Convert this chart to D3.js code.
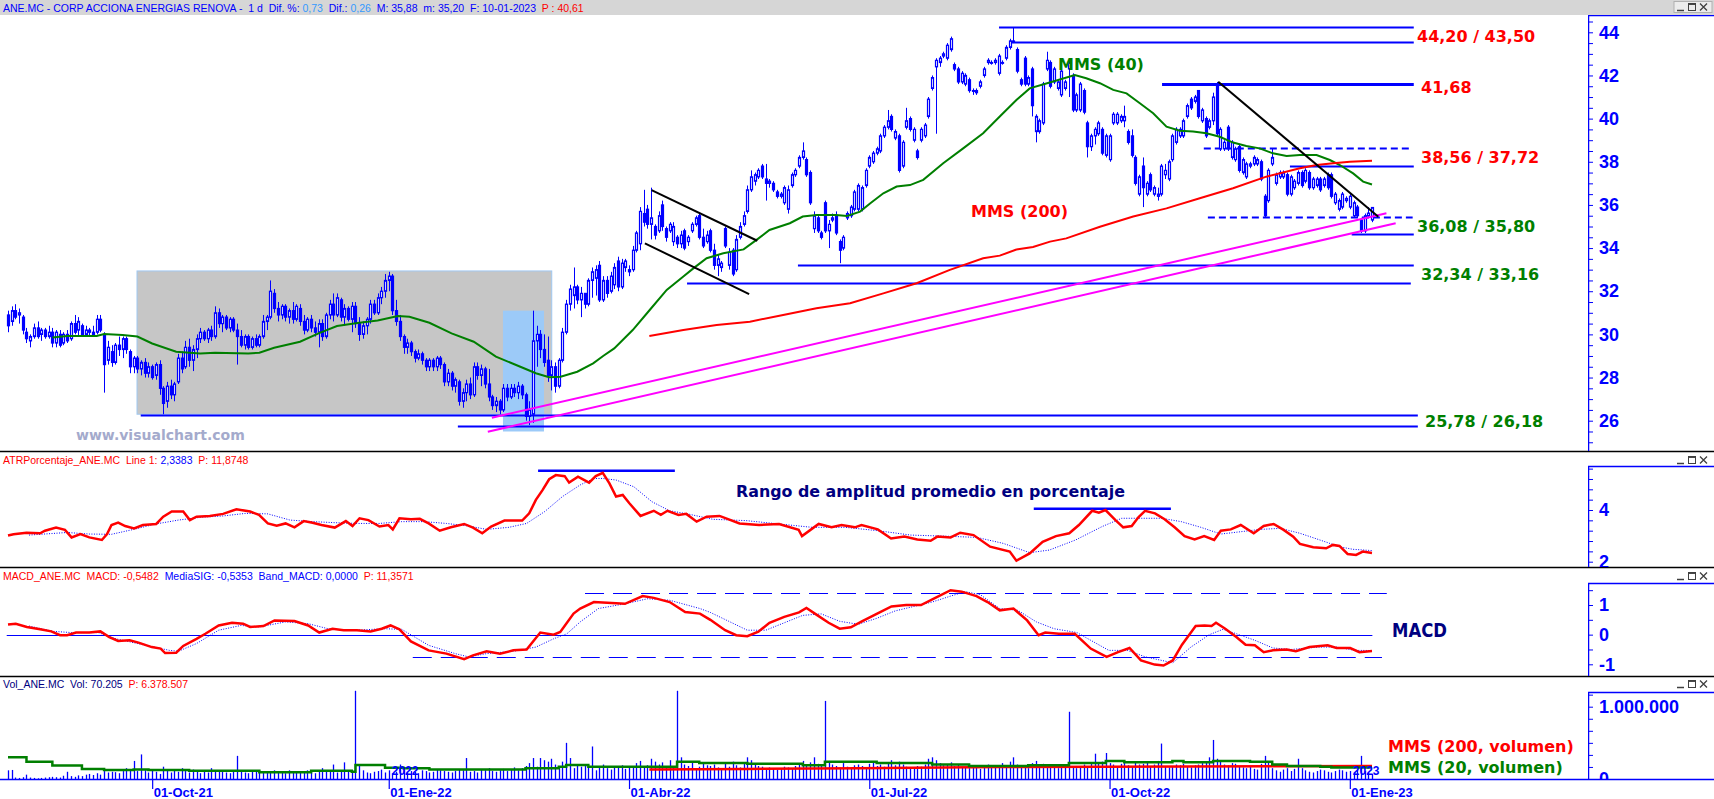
<!DOCTYPE html>
<meta charset="utf-8">
<style>
body { margin: 0; background: #fff; }
svg { display: block; }
</style>
<body>
<svg width="1714" height="799"></svg>
<script src="https://d3js.org/d3.v7.min.js"></script>
<script>

// ---- daily candles, one per trading session (Aug-21 .. 10-Jan-23) ----
var opens = [
30.9,30.6,31.1,30.9,30.8,30.1,29.7,29.9,30.3,30.0, 30.2,29.9,30.1,29.6,30.0,29.6,30.0,29.8,30.5,30.2,
30.4,30.0,30.2,30.1,30.1,30.7,30.0,28.8,29.2,28.7, 29.5,29.3,29.8,29.2,28.5,28.9,28.4,28.7,28.2,28.5,
28.1,28.6,27.5,26.9,27.6,27.2,27.8,28.9,28.5,29.4, 28.8,29.3,29.8,30.1,29.8,30.2,29.9,31.0,30.5,30.8,
30.3,30.7,30.2,29.9,29.5,29.9,29.4,29.8,29.5,29.9, 30.6,30.8,31.9,31.2,30.9,31.3,30.8,31.1,30.7,31.2,
30.6,30.2,30.7,30.3,30.1,30.5,29.9,30.9,31.4,30.9, 31.6,30.8,31.2,30.7,31.3,30.5,30.0,30.4,30.7,31.4,
31.0,31.7,32.0,32.5,32.7,31.1,30.6,29.9,29.4,29.6, 29.2,28.9,29.1,28.8,28.5,28.8,28.5,28.9,28.6,27.8,
28.2,27.6,27.8,26.9,27.3,27.7,27.2,28.5,28.1,28.4, 27.7,27.1,26.7,26.9,26.5,27.5,27.1,27.5,27.3,27.6,
27.2,26.2,26.3,29.7,30.0,29.3,28.8,28.1,28.5,27.6, 28.8,30.1,31.4,31.8,32.2,31.6,31.9,31.4,32.5,32.6,
33.2,31.6,32.5,32.0,32.3,33.4,32.2,33.1,33.0,33.0, 33.9,34.2,35.6,35.8,35.1,35.0,34.8,36.0,34.9,34.8,
34.3,34.5,34.2,34.8,34.3,34.8,35.1,35.5,34.5,34.3, 34.8,33.9,33.2,33.1,34.9,33.2,33.9,33.0,34.5,35.1,
35.7,36.7,37.1,37.3,37.8,37.2,37.0,37.0,36.6,36.4, 36.1,35.8,36.9,37.4,37.8,38.2,38.1,37.5,34.9,35.4,
34.7,36.1,34.8,35.3,35.5,34.3,34.0,35.4,35.5,35.8, 35.8,35.8,36.9,37.8,38.0,38.4,38.5,39.2,39.6,40.1,
39.1,39.2,37.8,39.6,40.0,39.0,38.5,39.0,39.2,40.1, 41.4,42.4,42.6,42.9,42.8,43.2,42.5,42.3,41.7,41.6,
41.8,41.3,41.3,41.5,42.0,42.6,42.6,42.6,42.1,42.6, 42.8,43.3,43.6,43.2,41.8,42.8,41.6,42.3,39.4,39.4,
39.8,42.3,42.6,41.7,41.4,41.1,41.4,42.3,42.0,40.4, 40.4,41.3,39.8,38.7,39.2,39.3,39.5,38.3,38.1,39.8,
39.8,39.9,39.9,39.4,39.2,38.2,36.5,37.8,36.5,37.4, 36.5,36.4,36.5,37.4,37.2,38.1,38.9,39.2,39.2,40.1,
40.9,40.8,41.3,39.9,40.0,39.6,39.9,41.6,38.6,38.6, 39.6,38.2,38.1,38.7,37.5,37.3,37.8,37.9,37.9,38.0,
36.4,36.2,37.9,37.0,37.3,37.3,37.4,36.5,36.8,37.0, 37.5,37.1,37.5,36.8,36.9,37.2,36.9,37.4,37.4,36.1,
35.8,35.9,36.2,35.9,35.5,35.9,35.3,34.8,35.5,35.3
];
var highs = [
31.1,31.3,31.4,31.2,30.9,30.3,30.0,30.5,30.6,30.3, 30.3,30.4,30.3,30.2,30.2,30.1,30.2,30.6,30.9,30.8,
30.5,30.4,30.3,30.4,30.9,30.9,30.1,29.7,29.5,29.6, 29.9,29.9,29.9,29.3,29.0,29.0,28.8,28.9,28.7,28.6,
28.7,28.8,27.6,27.8,27.9,27.8,29.1,29.2,29.7,29.8, 29.5,30.0,30.3,30.2,30.3,30.4,31.3,31.2,30.9,30.9,
30.8,30.8,30.5,30.2,30.0,30.0,29.9,30.0,30.0,30.9, 30.9,32.5,32.1,31.5,31.4,31.4,31.2,31.5,31.4,31.4,
30.9,30.8,30.9,30.6,30.7,30.7,31.0,31.6,31.9,31.9, 31.7,31.4,31.3,31.5,31.5,30.8,30.6,30.8,31.6,31.6,
31.9,32.2,32.8,32.9,32.8,31.6,30.9,30.0,29.8,29.7, 29.3,29.3,29.2,28.9,28.9,28.9,29.0,29.0,28.7,28.4,
28.3,28.0,27.9,27.5,27.9,28.0,28.7,28.7,28.6,28.5, 28.4,27.2,27.1,27.0,27.7,27.7,27.7,27.7,27.8,27.7,
27.3,26.9,31.1,30.4,30.2,30.0,29.9,28.8,28.7,28.9, 30.3,31.6,32.3,33.1,32.3,32.2,31.9,32.6,33.1,33.2,
33.4,32.7,32.7,32.9,33.3,33.6,33.5,33.5,33.2,34.1, 34.8,35.9,36.7,36.0,36.8,35.1,35.7,36.2,35.0,35.2,
35.2,34.6,34.8,34.9,34.6,35.2,35.5,35.6,34.9,34.8, 34.9,34.2,33.7,33.4,35.0,34.0,34.0,34.6,35.2,35.7,
36.9,37.6,37.5,37.7,37.9,37.9,37.2,37.1,36.7,36.6, 36.9,36.9,37.5,37.7,38.3,38.9,38.2,37.6,35.7,35.5,
34.8,36.2,35.3,35.6,35.7,34.4,34.6,35.7,36.0,36.7, 37.0,36.9,37.7,38.3,38.5,38.7,39.3,39.7,40.4,40.2,
39.5,39.3,39.0,40.5,40.1,39.6,38.6,39.6,39.8,41.0, 42.0,42.8,42.9,43.1,43.5,43.8,42.6,42.4,42.2,42.1,
41.9,41.4,41.4,41.8,42.4,42.8,42.7,42.8,43.0,42.7, 43.4,43.7,44.2,43.3,41.9,42.9,42.0,42.4,40.2,40.0,
41.7,43.1,42.7,42.4,41.8,42.3,41.8,42.7,42.1,41.2, 41.7,41.4,39.9,39.3,39.6,39.9,39.6,39.3,39.3,40.3,
40.3,40.2,40.6,39.5,39.5,38.3,37.4,38.2,37.1,37.5, 36.9,36.8,37.9,37.9,38.1,39.3,39.6,39.6,40.0,40.7,
41.0,41.1,41.3,40.5,40.1,40.0,41.2,41.7,39.6,39.0, 39.7,39.0,38.7,38.8,38.2,38.0,38.0,38.3,38.2,38.1,
36.5,37.7,38.6,37.5,37.6,37.6,37.5,37.4,37.2,37.6, 37.6,37.7,37.6,37.3,37.3,37.3,37.3,37.5,37.5,36.6,
36.3,36.6,36.4,36.5,36.2,36.0,35.4,35.6,35.9,35.88
];
var lows = [
30.1,30.4,30.7,30.5,30.0,29.6,29.4,29.8,29.8,29.7, 29.8,29.8,29.4,29.4,29.4,29.5,29.6,29.7,30.0,29.9,
29.9,29.9,29.9,29.9,30.0,30.1,27.3,28.6,28.5,28.6, 29.0,28.9,29.1,28.2,28.2,28.2,28.1,28.0,28.0,27.9,
27.9,27.2,26.3,26.6,27.0,26.9,27.7,28.2,28.4,28.5, 28.3,28.9,29.6,29.7,29.6,29.7,29.8,30.3,30.1,30.2,
30.1,30.1,28.6,29.4,29.3,29.3,29.3,29.4,29.4,29.8, 30.2,30.7,31.0,30.6,30.7,30.6,30.5,30.5,30.6,30.4,
30.0,30.1,30.1,29.9,29.4,29.7,29.8,30.7,30.6,30.8, 30.6,30.4,30.6,30.1,30.3,29.7,29.8,30.0,30.5,30.9,
30.9,31.4,31.7,32.0,30.9,30.4,29.7,29.1,29.1,29.0, 28.7,28.8,28.6,28.3,28.3,28.3,28.3,28.4,27.6,27.6,
27.4,27.3,26.7,26.6,26.9,27.0,27.1,27.9,27.6,27.5, 26.9,26.5,26.4,26.3,26.4,26.9,27.0,27.1,27.0,27.0,
26.0,25.8,25.9,28.5,28.9,28.5,27.8,27.4,27.3,27.5, 28.7,30.0,31.1,31.2,31.4,30.8,31.2,31.3,31.7,31.8,
31.5,31.5,31.7,31.9,32.1,32.0,32.1,32.9,32.7,32.9, 33.8,33.9,35.0,34.9,34.4,34.4,34.7,34.8,34.3,34.7,
34.1,34.0,34.0,33.9,34.1,34.7,35.0,34.4,34.0,34.2, 33.8,33.0,32.7,32.9,34.0,33.0,32.7,32.9,34.4,35.0,
35.6,36.6,36.9,37.2,37.2,36.2,36.8,36.6,36.3,36.3, 36.0,35.6,36.8,37.3,37.7,38.1,37.3,36.0,34.7,34.7,
34.4,34.7,34.0,35.2,34.6,33.3,33.9,35.3,35.4,35.7, 35.7,35.7,36.8,37.7,37.9,38.3,38.4,39.1,39.5,39.4,
39.0,37.5,37.7,39.5,39.4,38.9,38.1,38.9,39.1,40.0, 41.3,39.3,42.4,42.8,42.7,43.1,42.2,41.6,41.6,41.5,
41.2,41.1,41.1,41.4,41.9,42.5,42.5,42.5,42.0,42.5, 42.7,43.2,43.5,42.1,41.5,41.5,41.5,40.1,38.9,39.3,
39.7,42.2,41.4,41.6,41.3,41.0,41.3,41.0,40.3,40.3, 40.3,40.2,38.2,38.5,38.8,39.2,38.3,38.2,38.0,39.7,
39.7,39.8,39.6,38.8,38.2,36.9,36.4,35.9,36.4,36.6, 36.4,36.2,36.4,37.2,37.1,38.0,38.8,39.1,39.1,40.0,
40.4,40.7,40.0,39.8,39.1,39.5,39.7,39.2,38.5,38.5, 38.5,38.1,38.0,37.5,37.4,37.2,37.7,37.8,37.8,37.1,
35.4,36.1,37.8,36.9,37.2,37.2,36.4,36.4,36.7,36.9, 36.8,37.0,36.7,36.7,36.8,36.6,36.8,36.7,36.3,36.0,
35.7,35.8,36.1,35.8,35.4,35.4,34.7,34.7,35.4,35.2
];
var closes = [
30.4,31.1,30.8,31.0,30.2,29.8,29.9,30.3,29.9,30.2, 29.9,30.1,29.6,30.1,29.5,30.0,29.7,30.5,30.1,30.6,
30.0,30.2,30.1,30.0,30.7,30.2,28.6,29.4,28.7,29.5, 29.3,29.8,29.3,28.5,28.9,28.4,28.7,28.2,28.5,28.0,
28.6,27.5,26.8,27.6,27.2,27.7,28.9,28.4,29.4,28.8, 29.3,29.8,30.1,29.8,30.2,29.9,31.0,30.5,30.8,30.3,
30.7,30.2,29.9,29.5,29.9,29.4,29.8,29.5,29.9,30.6, 30.8,32.0,31.2,30.9,31.3,30.8,31.1,30.7,31.3,30.6,
30.2,30.7,30.3,30.1,30.5,29.9,30.9,31.4,30.9,31.7, 30.8,31.2,30.7,31.3,30.5,30.0,30.4,30.7,31.4,31.0,
31.7,32.0,32.5,32.7,31.1,30.6,29.9,29.4,29.6,29.2, 28.9,29.1,28.8,28.5,28.8,28.5,28.9,28.6,27.8,28.2,
27.6,27.9,26.9,27.3,27.7,27.2,28.5,28.1,28.4,27.7, 27.1,26.7,26.9,26.5,27.5,27.1,27.5,27.3,27.6,27.2,
26.2,26.5,29.7,30.0,29.3,28.7,28.1,28.5,27.6,28.8, 30.1,31.4,32.1,32.2,31.6,31.9,31.4,32.5,32.9,33.0,
31.6,32.5,31.9,32.7,33.1,32.2,33.3,33.4,32.9,33.9, 34.7,35.7,35.2,35.1,35.4,34.6,35.5,35.0,34.5,35.1,
35.0,34.2,34.6,34.0,34.5,35.1,35.4,34.5,34.1,34.6, 33.9,33.2,33.5,33.3,34.1,33.8,32.8,34.4,35.0,35.5,
36.7,37.3,37.4,37.6,37.3,37.0,37.1,36.7,36.4,36.5, 36.8,36.7,37.4,37.6,38.2,38.5,37.4,36.1,35.5,34.8,
34.5,34.8,35.1,35.4,34.7,33.9,34.5,35.6,35.9,36.6, 36.9,36.8,37.6,38.2,38.4,38.6,39.2,39.6,39.9,39.5,
39.4,37.6,38.9,39.9,39.5,39.5,38.2,39.5,39.7,40.9, 41.9,42.7,42.8,43.0,43.4,43.7,42.3,41.7,42.1,42.0,
41.3,41.3,41.2,41.7,42.3,42.7,42.6,42.7,42.9,42.6, 43.3,43.6,43.6,42.2,41.6,41.6,41.9,40.6,40.1,39.9,
41.6,42.7,41.5,42.3,41.7,42.2,41.7,42.6,40.4,41.1, 41.6,40.3,38.7,39.2,39.5,39.8,38.4,39.2,39.2,40.2,
40.2,40.1,40.1,38.9,38.3,37.0,37.3,36.8,37.0,36.7, 36.8,36.5,37.8,37.6,38.0,39.2,39.5,39.5,39.9,40.6,
40.5,41.0,40.1,40.4,39.2,39.9,41.0,39.3,39.5,38.9, 38.6,38.9,38.6,37.6,38.1,37.9,37.9,38.2,38.1,37.2,
35.5,37.6,38.2,37.4,37.5,37.5,36.5,37.3,37.1,37.5, 36.9,37.6,36.8,37.2,37.2,36.7,37.2,36.8,36.4,36.5,
36.2,36.5,36.3,36.4,36.1,35.5,34.8,35.5,35.62,35.88
];

// daily volume, thousands of shares
var volumes = [
120,125,20,15,25,60,20,15,10,15, 20,25,30,25,20,45,100,40,30,50,
40,60,70,55,80,60,110,90,100,95, 80,110,150,120,250,110,340,120,90,130,
100,70,170,130,90,120,100,150,110,90, 130,100,80,120,90,150,110,100,120,90,
80,100,320,110,90,80,100,120,110,90, 100,110,120,90,100,80,120,110,100,90,
110,120,90,80,100,150,120,110,200,90, 110,230,120,100,1220,200,120,90,80,100,
110,130,90,120,80,100,200,130,90,110, 100,80,120,110,90,100,130,120,110,100,
90,110,130,120,290,100,110,90,130,120, 150,110,100,120,140,110,130,160,120,150,
180,220,290,170,290,260,240,280,200,180, 240,500,290,150,200,170,190,160,450,120,
180,200,150,130,170,160,190,140,180,170, 220,250,160,190,280,240,200,230,170,260,
160,1220,300,200,180,230,150,170,210,190, 180,200,160,150,220,170,240,190,160,210,
300,260,200,180,170,150,160,140,130,150, 170,160,140,180,200,250,190,230,300,210,
180,1080,250,200,180,160,220,170,150,190, 200,180,160,210,230,180,200,170,220,260,
190,240,200,170,160,150,180,170,200,280, 300,260,220,190,200,230,180,200,170,160,
150,170,160,140,180,200,170,160,190,220, 180,240,300,200,180,160,150,220,250,200,
210,190,170,160,150,180,200,930,160,150, 170,200,180,220,350,210,240,360,220,200,
180,210,220,190,170,240,200,210,230,180, 200,250,490,180,160,170,200,190,210,180,
160,190,200,220,240,300,540,280,250,200, 190,220,210,180,160,150,170,140,130,210,
320,240,150,120,100,130,150,110,140,280, 150,120,100,90,110,130,120,100,90,110,
130,120,100,110,90,120,320,110,90,70
];

// moving averages: [bar, value]
var mms40 = [[12,29.86],[16,29.93],[24,29.93],[26,30.02],[31,29.97],[35,29.9],[39,29.58],[45.5,29.2],[52,29.12],[56,29.15],
  [65,29.12],[68,29.15],[72,29.38],[79,29.66],[84,30.05],[89,30.39],[95,30.54],[100,30.64],[105.5,30.85],[108.6,30.82],
  [114,30.54],[120,30.05],[126,29.66],[132,28.97],[138.6,28.5],[142.8,28.2],[146.4,28.01],[149.5,28.04],[154,28.27],[158.3,28.66],
  [161,29.0],[164,29.35],[169,30.2],[173.6,31.13],[178.2,32.06],[182.7,32.68],[185.4,33.06],[189,33.53],[193.5,33.76],[199,33.94],
  [202.5,34.38],[206,34.84],[211.5,35.15],[215,35.46],[218.7,35.53],[224,35.53],[227,35.49],[230.5,35.69],[233.2,36.07],[236.8,36.54],
  [240.4,36.85],[244,36.92],[247.6,37.16],[253,37.93],[258.4,38.62],[263.8,39.32],[268.3,40.1],[272.8,40.86],[276.4,41.4],[281.8,41.67],
  [288.6,42.02],[291.7,41.87],[295.4,41.64],[299,41.33],[302.6,41.17],[306.2,40.71],[309.8,40.25],[313.4,39.63],[317,39.44],[320.6,39.4],
  [324.2,39.32],[327.8,39.16],[331.4,38.89],[335,38.73],[338.6,38.62],[342.2,38.39],[345.9,38.27],[349.5,38.31],[354,38.31],[357.6,38.08],
  [360.3,37.85],[363.9,37.46],[366.6,37.08],[369,36.95]];
var mms200 = [[173.5,29.93],[182.7,30.2],[191.7,30.44],[200.7,30.59],[209.7,30.9],[218.7,31.21],[227.8,31.44],[236.8,31.9],
  [245.8,32.37],[254.8,32.99],[263.8,33.53],[268.3,33.65],[272.8,33.93],[277.3,34.05],[281.9,34.3],[286.3,34.45],[295.4,34.99],
  [304.4,35.46],[313.4,35.84],[322.4,36.31],[331.4,36.77],[340.4,37.31],[349.5,37.7],[354,37.85],[358.5,37.93],[363,38.0],[369,38.05]];

// ATR % (red) and its average (blue dotted)
var atrLine = [[0,3.01],[1.5,3.06],[5,3.12],[8.7,3.1],[10,3.2],[13,3.32],[15.4,3.23],[17.2,2.94],[19.6,3.07],[22,2.94],
  [25.4,2.84],[26.8,3.07],[28,3.42],[29.8,3.51],[31.7,3.38],[34.1,3.29],[36.5,3.42],[40.1,3.46],[42,3.74],[44.3,3.94],
  [47.4,3.94],[49.2,3.61],[51,3.74],[54.6,3.77],[58.2,3.85],[61.8,4.03],[65.5,3.94],[67.9,3.81],[70.3,3.48],[72.7,3.39],
  [75.1,3.48],[77.5,3.33],[80,3.57],[82.4,3.51],[84.8,3.42],[88.4,3.32],[91.4,3.57],[93.2,3.38],[95.1,3.68],[97.5,3.61],
  [100.5,3.36],[102.9,3.42],[104.1,3.25],[105.9,3.68],[109,3.64],[111.4,3.66],[113.8,3.48],[116.8,3.2],[119.8,3.33],[123.4,3.46],
  [125.8,3.32],[128.3,3.1],[130.7,3.36],[134.3,3.59],[139.1,3.59],[141,3.87],[142.8,4.39],[144.6,4.77],[146.4,5.19],[148.2,5.35],
  [150.6,5.31],[151.8,5.06],[154.2,5.29],[157.2,5.06],[159,5.31],[160.9,5.44],[162.7,5.03],[164.5,4.52],[166.3,4.58],[168.1,4.26],
  [171.1,3.77],[174.7,3.97],[176.6,3.81],[178.4,3.97],[181.4,3.81],[183.5,3.85],[186.3,3.55],[189,3.74],[192.5,3.77],[197.9,3.48],
  [203.2,3.42],[208.6,3.46],[213.9,3.23],[214.8,2.99],[219.3,3.46],[222.8,3.33],[225.5,3.42],[229.1,3.33],[230.9,3.42],[235.3,3.25],
  [238.9,2.9],[242.5,2.97],[246,2.86],[249.6,2.81],[251.4,2.97],[255,2.94],[257.6,3.12],[261.2,3.03],[265.7,2.58],[271,2.39],
  [272.8,2.04],[276.4,2.32],[279.9,2.77],[283.5,2.99],[287.1,3.1],[289.7,3.42],[293.3,3.97],[295.1,3.9],[296.9,4.0],[299.6,3.61],
  [301.7,3.33],[304,3.38],[305.8,3.72],[307.6,3.97],[310.3,3.87],[312.9,3.64],[315.6,3.33],[318.3,2.99],[321,2.86],[323.6,2.99],
  [326.3,2.84],[328.1,3.2],[330.8,3.25],[333.5,3.42],[337,3.1],[339.7,3.38],[342.4,3.46],[345.1,3.23],[347.7,2.97],[349.5,2.69],
  [353.1,2.56],[356.6,2.52],[358.4,2.65],[360.2,2.61],[362.4,2.3],[364.7,2.26],[366.5,2.39],[369,2.34]];
var atrAvg = [[5.7,3.03],[16,3.13],[22,3.07],[28,3.06],[34,3.25],[40,3.46],[46.1,3.61],[52.2,3.72],[58.2,3.77],[64.3,3.87],
  [70.3,3.85],[76.3,3.61],[82.4,3.55],[88.4,3.51],[94.4,3.48],[100.5,3.48],[106.5,3.55],[112.6,3.55],[118.6,3.48],[124.6,3.38],
  [129.5,3.25],[135.5,3.33],[140.3,3.48],[145.2,3.94],[150,4.52],[154.8,4.97],[158.5,5.22],[160.9,5.22],[164.5,5.16],[169.3,4.9],
  [174.2,4.32],[179,3.97],[183.8,3.85],[190.7,3.64],[199.6,3.59],[208.6,3.46],[217.5,3.33],[226.4,3.33],[235.3,3.2],[244.2,3.03],
  [253.2,2.99],[262.1,2.94],[269.2,2.71],[276.4,2.35],[281.7,2.45],[288.8,2.84],[296,3.36],[301.3,3.68],[306.7,3.68],[312,3.68],
  [317.4,3.55],[322.7,3.33],[328.1,3.07],[333.5,3.16],[338.8,3.25],[344.2,3.29],[349.5,3.1],[354.9,2.84],[360.2,2.58],[363.8,2.48],[369,2.43]];

// MACD (red) and signal (blue dotted)
var macdLine = [[0,0.34],[2.1,0.37],[5.1,0.26],[8.7,0.18],[11.7,0.11],[14.1,-0.02],[16,-0.02],[18.4,0.07],[22,0.07],[25,0.11],
  [27.4,-0.08],[29.8,-0.21],[32.9,-0.19],[35.3,-0.27],[38.9,-0.42],[41.3,-0.47],[42.5,-0.62],[45.5,-0.61],[47.4,-0.38],[51,-0.14],
  [53.4,0.03],[57,0.31],[60.6,0.4],[63.6,0.37],[65.5,0.26],[69.1,0.29],[72.1,0.48],[77.5,0.46],[81.2,0.31],[84.2,0.07],
  [87.8,0.2],[90.8,0.15],[94.4,0.15],[98.1,0.11],[101.1,0.2],[103.5,0.31],[105.9,0.18],[109,-0.23],[113.8,-0.53],[118.6,-0.64],
  [123.4,-0.83],[125.8,-0.7],[129.5,-0.56],[133.1,-0.64],[136.7,-0.53],[140.3,-0.5],[144,0.07],[147.6,0],[149.4,0.09],[153,0.71],
  [154.8,0.88],[158.5,1.1],[162.1,1.08],[166.9,1.04],[171.7,1.3],[174.7,1.24],[179,1.1],[183.2,0.76],[187.2,0.71],[190,0.5],
  [194,0.15],[197,-0.02],[200,-0.05],[203,0.1],[206,0.4],[210,0.6],[214,0.75],[216,0.9],[219,0.65],[222,0.4],
  [225,0.2],[228,0.25],[231,0.45],[235,0.7],[239,0.95],[243,1.0],[247,1.0],[251,1.25],[255,1.5],[258,1.45],
  [262,1.3],[265,1.1],[268.3,0.82],[272,0.88],[275.7,0.48],[278.8,-0.02],[280.6,0.07],[284.3,0.03],[288.6,0.03],[292.9,-0.47],
  [297.2,-0.75],[300.3,-0.59],[303.4,-0.45],[306.5,-0.87],[310.2,-1.01],[312.6,-1.04],[315.1,-0.87],[317.6,-0.34],[321.3,0.29],[323.7,0.31],
  [325.6,0.29],[326.8,0.4],[329.3,0.2],[332.3,-0.08],[334.8,-0.34],[337.3,-0.36],[339.7,-0.59],[342.2,-0.53],[345.9,-0.5],[348.4,-0.56],
  [352.1,-0.42],[357,-0.36],[359.4,-0.45],[363.1,-0.45],[365.6,-0.59],[369,-0.55]];
var macdSig = [[5.7,0.29],[12.3,0.11],[17.2,0.07],[24.4,0.07],[29.2,-0.14],[36.5,-0.34],[43.7,-0.53],[46.1,-0.56],[51,-0.3],[57,0.15],
  [63,0.31],[67.9,0.26],[75.1,0.43],[81.2,0.37],[87.2,0.18],[94.4,0.15],[101.7,0.2],[106.5,0.18],[113.8,-0.36],[121,-0.64],
  [124.6,-0.75],[129.5,-0.64],[136.7,-0.56],[142.8,-0.42],[147.6,-0.14],[151.2,0.03],[154.8,0.43],[159.7,0.88],[166.9,1.04],[173,1.21],
  [179,1.16],[187.2,0.88],[190,0.75],[195,0.45],[200,0.15],[205,0.15],[210,0.4],[215,0.65],[220,0.7],[225,0.45],
  [230,0.35],[235,0.55],[240,0.8],[245,0.95],[250,1.1],[255,1.3],[259,1.45],[263,1.35],[268.3,0.88],[273.2,0.82],
  [278.2,0.43],[283,0.2],[289.2,0.07],[292.9,-0.19],[297.8,-0.53],[302.8,-0.53],[307.7,-0.75],[315.1,-0.95],[320,-0.42],[325,0],
  [328.7,0.18],[332.3,0.03],[337.3,-0.19],[342.2,-0.45],[347.1,-0.5],[354.5,-0.42],[359.4,-0.42],[364.4,-0.53],[369,-0.535]];

// volume averages, thousands
var volMms20 = [[0,300],[5,240],[12,186],[20,140],[26,124],[34,133],[38,124],[49,115],[63,115],[68,92],[82,115],[93,101],
  [94,193],[102,156],[107,147],[114,133],[131,133],[140,147],[149,170],[151,193],[157,170],[172,170],[180,170],[181,240],
  [187,220],[200,210],[215,190],[221,240],[235,220],[250,200],[260,180],[268,180],[276,190],[287,220],[297,250],[302,230],
  [315,250],[318,230],[326,250],[336,240],[342,200],[346,180],[355,170],[358,160],[369,160]];
var volMms200 = [[173.5,133],[200,140],[230,150],[268,165],[369,180]];

// analyst drawings: horizontal levels [value, fromBar, toBar]
var priceLevels = [[44.24,268.1,380.3],[43.56,271,380.3],[41.6,312.2,380.3],[38.65,323.5,380],[37.82,346.8,380.3],
  [35.46,324.6,380],[34.67,363.5,380.3],[33.22,213.7,380.3],[32.40,183.7,379.5],[26.27,35.9,381.4],[25.77,121.7,381.4]];
var dashedLevels = [38.65, 35.46];
var thickLevels = [41.6];
// trend lines [bar1, value1, bar2, value2]
var flagLines = [[174.1,36.69,202.7,34.34],[172.3,34.22,200.5,31.87],[327.4,41.71,370.7,35.45]];
var supportLines = [[130.9,26.14,372.9,35.61],[129.8,25.49,375.4,35.15]];
// shaded zones [bar1, bar2, valueTop, valueBottom]
var rangeBox = [34.9, 147.1, 32.94, 26.3];
var spikeBox = [133.9, 145, 31.1, 25.5];
var levelLabels = ["44,20 / 43,50", "41,68", "38,56 / 37,72", "36,08 / 35,80", "32,34 / 33,16", "25,78 / 26,18"];

var atrLevels = [[5.52,143.4,180.4],[4.05,277.5,314.6]];
var macdBands = [[1.417,156.1,373],[-0.76,109.5,371.7]];

// time axis
var dateTickBars = [39, 103, 168, 233, 298, 363];
var dateTickLabels = ["01-Oct-21", "01-Ene-22", "01-Abr-22", "01-Jul-22", "01-Oct-22", "01-Ene-23"];
var yearMarks = [[103, "2022"], [363, "2023"]];

var priceTicks = [26, 28, 30, 32, 34, 36, 38, 40, 42, 44];
var atrTicks = [2, 4];
var macdTicks = [-1, 0, 1];
var volTicks = [0, 1000];

// ------------------------------------------------------------------
var W = 1714, axisX = 1588;
var BLUE = "#0000ff", RED = "#ff0000", GREEN = "#007f00", NAVY = "#000080";
var svg = d3.select("svg");
var defs = svg.append("defs");

var x = d3.scaleLinear().domain([0, 369]).range([8, 1372]);
var yP = d3.scaleLinear().domain([44, 26]).range([32.3, 420.7]);
var yA = d3.scaleLinear().domain([4, 2]).range([510, 561.7]);
var yM = d3.scaleLinear().domain([1, -1]).range([605, 664.3]);
var yV = d3.scaleLinear().domain([0, 1000]).range([779, 706.7]);

var panels = [
  {id: "p", top: 15, bottom: 451, axisTop: 15, y: yP},
  {id: "a", top: 452, bottom: 567, axisTop: 466, y: yA},
  {id: "m", top: 568, bottom: 676, axisTop: 583, y: yM},
  {id: "v", top: 677, bottom: 779, axisTop: 692, y: yV}
];

panels.forEach(function(p) {
  defs.append("clipPath").attr("id", "clip-" + p.id).append("rect")
    .attr("x", 0).attr("y", p.top).attr("width", axisX).attr("height", p.bottom - p.top);
  defs.append("clipPath").attr("id", "aclip-" + p.id).append("rect")
    .attr("x", axisX).attr("y", p.top).attr("width", W - axisX).attr("height", p.bottom - p.top);
});

svg.append("rect").attr("width", W).attr("height", 799).attr("fill", "#fff");

// title bar
svg.append("rect").attr("x", 0).attr("y", 0).attr("width", W).attr("height", 15).attr("fill", "#d6d6d6");
var title = svg.append("text").attr("x", 3).attr("y", 11.5)
  .style("font", "10.5px 'Liberation Sans', Arial, sans-serif").style("white-space", "pre").attr("fill", BLUE);
title.append("tspan").text("ANE.MC - CORP ACCIONA ENERGIAS RENOVA -  1 d  Dif. %: ");
title.append("tspan").attr("fill", "#3399ff").text("0,73");
title.append("tspan").text("  Dif.: ");
title.append("tspan").attr("fill", "#3399ff").text("0,26");
title.append("tspan").text("  M: 35,88  m: 35,20  F: 10-01-2023  ");
title.append("tspan").attr("fill", RED).text("P : 40,61");

function winButtons(y0, boxed) {
  var g = svg.append("g").attr("transform", "translate(1676," + y0 + ")");
  if (boxed) g.append("rect").attr("x", -2).attr("y", -1.5).attr("width", 38).attr("height", 11)
    .attr("fill", "#ececec").attr("stroke", "#b0b0b0");
  g.append("line").attr("x1", 1).attr("x2", 8).attr("y1", 7.5).attr("y2", 7.5).attr("stroke", "#404040").attr("stroke-width", 1.5);
  g.append("rect").attr("x", 12.5).attr("y", 0.5).attr("width", 7).attr("height", 7).attr("fill", "none").attr("stroke", "#404040");
  g.append("line").attr("x1", 12.5).attr("x2", 19.5).attr("y1", 1.2).attr("y2", 1.2).attr("stroke", "#404040").attr("stroke-width", 1.5);
  g.append("path").attr("d", "M24,0.5L31,7.5M31,0.5L24,7.5").attr("stroke", "#404040").attr("stroke-width", 1.3);
}
winButtons(3, true);
winButtons(456, false);
winButtons(572, false);
winButtons(680, false);

// separators
[451.5, 567.5, 676.5].forEach(function(yy) {
  svg.append("line").attr("x1", 0).attr("x2", W).attr("y1", yy).attr("y2", yy).attr("stroke", "#000").attr("stroke-width", 1.5);
});

// right axes
function rightAxis(p, minor, labels, fmt) {
  var g = svg.append("g").attr("clip-path", "url(#aclip-" + p.id + ")");
  var ax = g.append("g").attr("transform", "translate(" + axisX + ",0)")
    .call(d3.axisRight(p.y).tickValues(minor).tickSize(5).tickPadding(6)
      .tickFormat(function(d) {
        return labels.some(function(l) { return Math.abs(l - d) < 1e-6; }) ? fmt(d) : "";
      }));
  ax.select(".domain").remove();
  ax.selectAll(".tick line").attr("stroke", BLUE);
  ax.selectAll(".tick text").attr("fill", BLUE)
    .style("font", "bold 18px 'Liberation Sans', Arial, sans-serif");
  g.append("line").attr("x1", axisX + 0.5).attr("x2", axisX + 0.5).attr("y1", p.axisTop).attr("y2", p.bottom)
    .attr("stroke", BLUE).attr("stroke-width", 1.5);
  g.append("line").attr("x1", axisX).attr("x2", W).attr("y1", p.axisTop + 0.5).attr("y2", p.axisTop + 0.5)
    .attr("stroke", BLUE).attr("stroke-width", 1.5);
}
rightAxis(panels[0], d3.range(25, 44.6, 0.5), priceTicks, d3.format("d"));
rightAxis(panels[1], d3.range(2, 5.7, 0.4), atrTicks, d3.format("d"));
rightAxis(panels[2], d3.range(-1.5, 1.6, 0.5), macdTicks, function(d) { return d < 0 ? "-" + (-d) : "" + d; });
rightAxis(panels[3], d3.range(0, 1200, 1000 / 6), volTicks, function(d) { return d === 0 ? "0" : "1.000.000"; });

// ------------------ price panel ------------------
var gP = svg.append("g").attr("clip-path", "url(#clip-p)");

gP.append("rect").attr("x", x(rangeBox[0])).attr("y", yP(rangeBox[2]))
  .attr("width", x(rangeBox[1]) - x(rangeBox[0])).attr("height", yP(rangeBox[3]) - yP(rangeBox[2]))
  .attr("fill", "#c6c6c6").attr("stroke", "#9fc8f2");
gP.append("rect").attr("x", x(spikeBox[0])).attr("y", yP(spikeBox[2]))
  .attr("width", x(spikeBox[1]) - x(spikeBox[0])).attr("height", yP(spikeBox[3]) - yP(spikeBox[2]))
  .attr("fill", "#9ccaf8");

gP.selectAll(".level").data(priceLevels).join("line")
  .attr("x1", function(d) { return x(d[1]); }).attr("x2", function(d) { return x(d[2]); })
  .attr("y1", function(d) { return Math.round(yP(d[0])) + 0.5; }).attr("y2", function(d) { return Math.round(yP(d[0])) + 0.5; })
  .attr("stroke", BLUE)
  .attr("stroke-width", function(d) { return thickLevels.indexOf(d[0]) >= 0 ? 3 : 2; })
  .attr("stroke-dasharray", function(d) { return dashedLevels.indexOf(d[0]) >= 0 ? "7,4" : null; });

var candles = closes.map(function(c, i) {
  return {i: i, o: opens[i], h: highs[i], l: lows[i], c: c};
});
gP.selectAll(".wick").data(candles).join("line")
  .attr("x1", function(d) { return Math.round(x(d.i)) + 0.5; })
  .attr("x2", function(d) { return Math.round(x(d.i)) + 0.5; })
  .attr("y1", function(d) { return yP(d.h); }).attr("y2", function(d) { return yP(d.l); })
  .attr("stroke", BLUE).attr("stroke-width", 1);
gP.selectAll(".body").data(candles).join("rect")
  .attr("x", function(d) { return Math.round(x(d.i)) - 0.5; })
  .attr("width", 2)
  .attr("y", function(d) { return yP(Math.max(d.o, d.c)); })
  .attr("height", function(d) { return Math.max(0.8, Math.abs(yP(d.o) - yP(d.c))); })
  .attr("fill", function(d) { return d.c >= d.o ? "#fff" : BLUE; })
  .attr("stroke", BLUE).attr("stroke-width", 1.2);

var lineIV = function(ys) {
  return d3.line().x(function(d) { return x(d[0]); }).y(function(d) { return ys(d[1]); });
};
gP.append("path").datum(mms40).attr("d", lineIV(yP)).attr("fill", "none").attr("stroke", GREEN).attr("stroke-width", 2);
gP.append("path").datum(mms200).attr("d", lineIV(yP)).attr("fill", "none").attr("stroke", RED).attr("stroke-width", 2);

gP.selectAll(".sup").data(supportLines).join("line")
  .attr("x1", function(d) { return x(d[0]); }).attr("y1", function(d) { return yP(d[1]); })
  .attr("x2", function(d) { return x(d[2]); }).attr("y2", function(d) { return yP(d[3]); })
  .attr("stroke", "#ff00ff").attr("stroke-width", 2);
gP.selectAll(".flag").data(flagLines).join("line")
  .attr("x1", function(d) { return x(d[0]); }).attr("y1", function(d) { return yP(d[1]); })
  .attr("x2", function(d) { return x(d[2]); }).attr("y2", function(d) { return yP(d[3]); })
  .attr("stroke", "#000").attr("stroke-width", 2);

var bigFont = "bold 16px 'DejaVu Sans', Verdana, sans-serif";
var lblPos = [[1417, 41.5, RED], [1421, 93, RED], [1421, 163, RED], [1417, 232, GREEN], [1421, 280, GREEN], [1425, 427, GREEN]];
levelLabels.forEach(function(t, k) {
  svg.append("text").attr("x", lblPos[k][0]).attr("y", lblPos[k][1]).attr("fill", lblPos[k][2])
    .style("font", bigFont).text(t);
});
gP.append("text").attr("x", 1058).attr("y", 70).attr("fill", GREEN).style("font", bigFont).text("MMS (40)");
gP.append("text").attr("x", 971).attr("y", 217).attr("fill", RED).style("font", bigFont).text("MMS (200)");
gP.append("text").attr("x", 76).attr("y", 440).attr("fill", "#a4aacc")
  .style("font", "bold 14px 'DejaVu Sans', Verdana, sans-serif").text("www.visualchart.com");

// ------------------ ATR panel ------------------
var smallFont = "10.5px 'Liberation Sans', Arial, sans-serif";
var tA = svg.append("text").attr("x", 3).attr("y", 464).attr("fill", RED).style("font", smallFont).style("white-space", "pre");
tA.append("tspan").text("ATRPorcentaje_ANE.MC  Line 1: ");
tA.append("tspan").attr("fill", BLUE).text("2,3383");
tA.append("tspan").text("  P: 11,8748");

var gA = svg.append("g").attr("clip-path", "url(#clip-a)");
gA.selectAll(".lv").data(atrLevels).join("line")
  .attr("x1", function(d) { return x(d[1]); }).attr("x2", function(d) { return x(d[2]); })
  .attr("y1", function(d) { return yA(d[0]); }).attr("y2", function(d) { return yA(d[0]); })
  .attr("stroke", BLUE).attr("stroke-width", 2.5);
gA.append("path").datum(atrAvg).attr("d", lineIV(yA)).attr("fill", "none")
  .attr("stroke", BLUE).attr("stroke-width", 1).attr("stroke-dasharray", "1,1.5");
gA.append("path").datum(atrLine).attr("d", lineIV(yA)).attr("fill", "none").attr("stroke", RED).attr("stroke-width", 2.5);
gA.append("text").attr("x", 736).attr("y", 497).attr("fill", NAVY)
  .attr("textLength", 389).attr("lengthAdjust", "spacingAndGlyphs")
  .style("font", "bold 15px 'DejaVu Sans Condensed', 'DejaVu Sans', sans-serif")
  .text("Rango de amplitud promedio en porcentaje");

// ------------------ MACD panel ------------------
var tM = svg.append("text").attr("x", 3).attr("y", 580).attr("fill", RED).style("font", smallFont).style("white-space", "pre");
tM.append("tspan").text("MACD_ANE.MC  MACD: -0,5482  ");
tM.append("tspan").attr("fill", BLUE).text("MediaSIG: -0,5353  Band_MACD: 0,0000  ");
tM.append("tspan").text("P: 11,3571");

var gM = svg.append("g").attr("clip-path", "url(#clip-m)");
gM.append("line").attr("x1", x(-0.35)).attr("x2", x(369.1)).attr("y1", Math.round(yM(0)) + 0.5).attr("y2", Math.round(yM(0)) + 0.5)
  .attr("stroke", BLUE).attr("stroke-width", 1);
gM.selectAll(".band").data(macdBands).join("line")
  .attr("x1", function(d) { return x(d[1]); }).attr("x2", function(d) { return x(d[2]); })
  .attr("y1", function(d) { return Math.round(yM(d[0])) + 0.5; }).attr("y2", function(d) { return Math.round(yM(d[0])) + 0.5; })
  .attr("stroke", BLUE).attr("stroke-width", 1.2).attr("stroke-dasharray", "19,9");
gM.append("path").datum(macdSig).attr("d", lineIV(yM)).attr("fill", "none")
  .attr("stroke", BLUE).attr("stroke-width", 1).attr("stroke-dasharray", "1,1.5");
gM.append("path").datum(macdLine).attr("d", lineIV(yM)).attr("fill", "none").attr("stroke", RED).attr("stroke-width", 2.5);
gM.append("text").attr("x", 1392).attr("y", 637).attr("fill", NAVY)
  .attr("textLength", 55).attr("lengthAdjust", "spacingAndGlyphs")
  .style("font", "bold 19px 'DejaVu Sans Condensed', 'DejaVu Sans', sans-serif").text("MACD");

// ------------------ Volume panel ------------------
var tV = svg.append("text").attr("x", 3).attr("y", 688).attr("fill", NAVY).style("font", smallFont).style("white-space", "pre");
tV.append("tspan").text("Vol_ANE.MC  Vol: 70.205  ");
tV.append("tspan").attr("fill", RED).text("P: 6.378.507");

var gV = svg.append("g").attr("clip-path", "url(#clip-v)");
gV.selectAll(".vbar").data(volumes).join("line")
  .attr("x1", function(d, i) { return Math.round(x(i)) + 0.5; })
  .attr("x2", function(d, i) { return Math.round(x(i)) + 0.5; })
  .attr("y1", yV(0)).attr("y2", function(d) { return yV(d); })
  .attr("stroke", BLUE).attr("stroke-width", 1.3);
gV.append("path").datum(volMms200).attr("d", lineIV(yV)).attr("fill", "none").attr("stroke", RED).attr("stroke-width", 2.5);
gV.append("path").datum(volMms20).attr("d", d3.line().curve(d3.curveStepAfter)
  .x(function(d) { return x(d[0]); }).y(function(d) { return yV(d[1]); }))
  .attr("fill", "none").attr("stroke", GREEN).attr("stroke-width", 2.5);
yearMarks.forEach(function(m) {
  gV.append("text").attr("x", x(m[0]) + 3).attr("y", 775).attr("fill", BLUE)
    .style("font", "bold 12px 'Liberation Sans', Arial, sans-serif").text(m[1]);
});
gV.append("text").attr("x", 1388).attr("y", 752).attr("fill", RED).style("font", bigFont).text("MMS (200, volumen)");
gV.append("text").attr("x", 1388).attr("y", 773).attr("fill", GREEN).style("font", bigFont).text("MMS (20, volumen)");

// bottom date axis
svg.append("line").attr("x1", 0).attr("x2", W).attr("y1", 779.5).attr("y2", 779.5).attr("stroke", BLUE).attr("stroke-width", 1.5);
var gX = svg.append("g").attr("transform", "translate(0,779)")
  .call(d3.axisBottom(x).tickValues(dateTickBars).tickSize(10).tickPadding(1)
    .tickFormat(function(d, k) { return dateTickLabels[k]; }));
gX.select(".domain").remove();
gX.selectAll(".tick line").attr("stroke", BLUE).attr("stroke-width", 1.2);
gX.selectAll(".tick text").attr("fill", BLUE).attr("text-anchor", "start").attr("x", 1).attr("dy", "0.55em")
  .style("font", "bold 13px 'Liberation Sans', Arial, sans-serif");

</script>
</body>
